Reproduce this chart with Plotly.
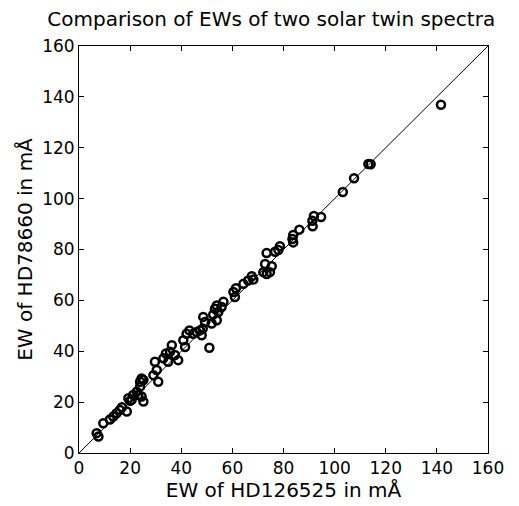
import plotly.graph_objects as go

ew_hd126525 = [6.9, 7.6, 9.5, 12.1, 13.4, 14.7, 16.0, 16.8, 18.7, 19.3, 20.0, 20.6, 21.2, 22.6,
               23.2, 24.5, 25.2, 23.9, 23.9, 24.5, 25.2, 29.1, 30.4, 31.0, 29.7, 33.0, 34.0,
               34.9, 35.6, 36.3, 38.8, 37.5, 40.8, 41.5, 42.1, 43.2, 44.7, 46.0, 47.3, 48.0,
               48.6, 49.3, 48.4, 51.0, 51.9, 53.2, 52.5, 53.9, 54.5, 55.8, 53.9, 56.5,
               60.4, 61.0, 61.4, 64.3, 66.2, 67.6, 68.2, 72.1, 73.4, 74.7, 72.8, 75.4, 73.4,
               76.7, 78.0, 78.6, 83.8, 83.5, 83.8, 86.2, 91.4, 91.3, 91.9, 94.7, 103.2,
               107.6, 113.2, 114.1, 141.6]
ew_hd78660 = [7.8, 6.5, 11.7, 13.2, 14.3, 15.6, 16.9, 18.0, 16.3, 21.5, 20.5, 20.9, 22.8, 24.1,
              22.8, 22.2, 20.2, 26.1, 28.0, 29.3, 28.7, 30.6, 32.6, 28.0, 35.9, 37.2, 39.1,
              35.9, 39.8, 42.4, 36.5, 38.5, 44.3, 41.7, 46.9, 48.2, 46.9, 47.6, 48.2, 46.3,
              53.5, 51.5, 48.9, 41.4, 50.9, 56.7, 54.4, 52.2, 55.4, 57.4, 58.0, 59.5,
              63.3, 61.3, 64.8, 66.5, 67.8, 69.5, 68.2, 71.1, 70.4, 71.1, 74.3, 73.4, 78.6,
              79.1, 79.8, 81.3, 82.8, 84.1, 85.7, 87.8, 89.1, 91.3, 93.2, 92.8, 102.6,
              108.0, 113.6, 113.5, 136.9]
axis_range = [0, 160]
tick_vals = [0, 20, 40, 60, 80, 100, 120, 140, 160]

fig = go.Figure()
fig.add_trace(go.Scatter(x=axis_range, y=axis_range, mode="lines",
                         line=dict(color="black", width=1), showlegend=False, hoverinfo="skip"))
fig.add_trace(go.Scatter(x=ew_hd126525, y=ew_hd78660, mode="markers",
                         marker=dict(symbol="circle-open", size=8, color="black",
                                     line=dict(width=2.5, color="black")),
                         showlegend=False))

font = "DejaVu Sans, sans-serif"
axis_common = dict(range=axis_range, tickvals=tick_vals, ticks="inside", ticklen=5,
                   tickcolor="black", showline=True, linecolor="black", linewidth=1,
                   mirror="ticks", showgrid=False, zeroline=False,
                   tickfont=dict(family=font, size=17, color="black"))

W, H = 511, 498  # page body adds an 8px offset
fig.update_layout(
    width=W, height=H,
    margin=dict(l=71, r=31, t=38, b=51),
    paper_bgcolor="white", plot_bgcolor="white",
    title=dict(text="Comparison of EWs of two solar twin spectra",
               font=dict(family=font, size=20, color="black"),
               x=0.47, xref="paper", xanchor="center",
               y=1 - 11 / H, yref="container", yanchor="middle"),
    xaxis=dict(**axis_common,
               title=dict(text="EW of HD126525 in mÅ", standoff=2,
                          font=dict(family=font, size=20, color="black"))),
    yaxis=dict(**axis_common,
               title=dict(text="EW of HD78660 in mÅ", standoff=4,
                          font=dict(family=font, size=20, color="black"))),
)

fig.write_html("out.html")
